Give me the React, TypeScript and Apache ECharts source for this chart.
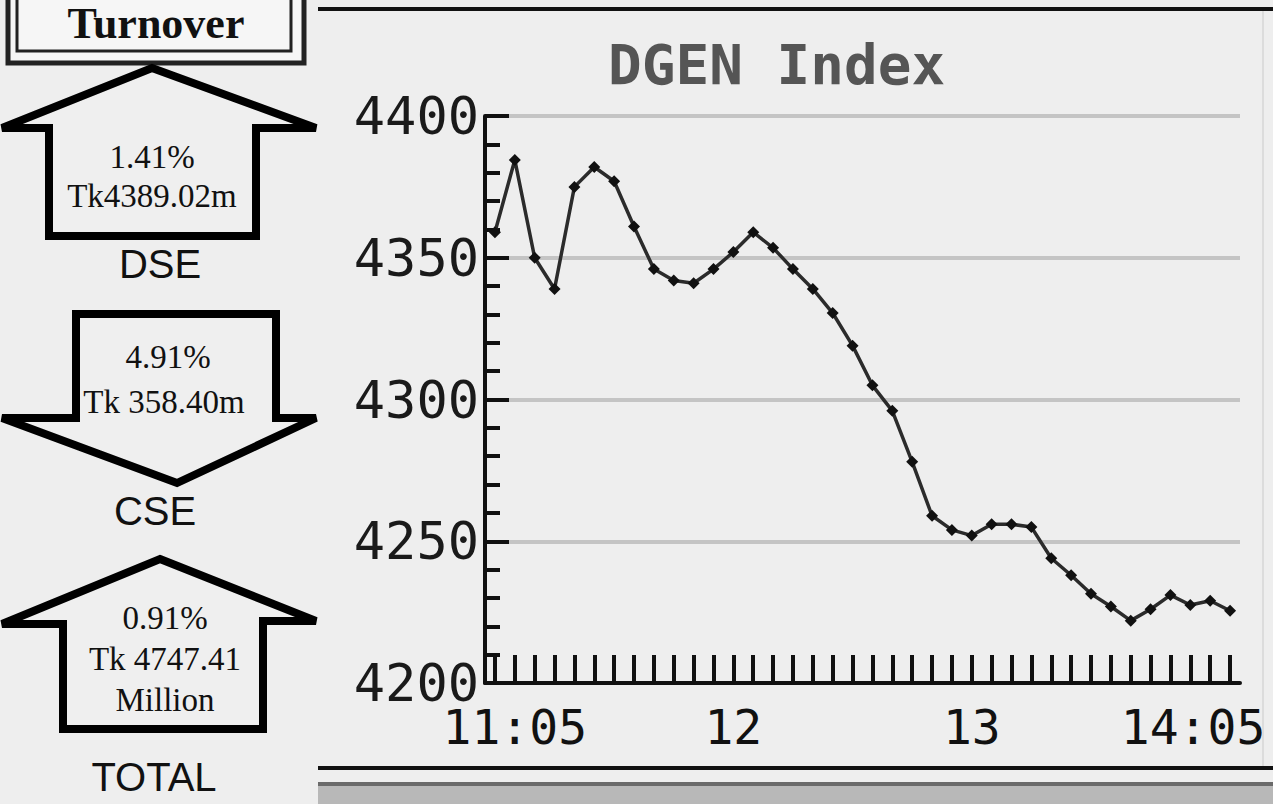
import React, { useEffect, useRef } from "react";
import * as echarts from "echarts";

// ---- data ----
const times = [
  "11:00", "11:05", "11:10", "11:15", "11:20", "11:25", "11:30", "11:35", "11:40", "11:45",
  "11:50", "11:55", "12:00", "12:05", "12:10", "12:15", "12:20", "12:25", "12:30", "12:35",
  "12:40", "12:45", "12:50", "12:55", "13:00", "13:05", "13:10", "13:15", "13:20", "13:25",
  "13:30", "13:35", "13:40", "13:45", "13:50", "13:55", "14:00", "14:05",
];
const dgenValues = [
  4359, 4384.5, 4350, 4339, 4375, 4382, 4377, 4361, 4346, 4342,
  4341, 4346, 4352, 4359, 4353.5, 4346, 4339, 4330.5, 4319, 4305,
  4296, 4278, 4259, 4254, 4252, 4256, 4256, 4255, 4244, 4238,
  4231.5, 4227, 4222, 4226, 4231, 4227.5, 4229, 4225.5,
];
const xTickLabels: Record<string, string> = {
  "11:05": "11:05",
  "12:00": "12",
  "13:00": "13",
  "14:05": "14:05",
};
const yTicks = { min: 4200, max: 4400, step: 50 };

const turnoverTitle = "Turnover";
const dseLines = ["1.41%", "Tk4389.02m"];
const cseLines = ["4.91%", "Tk 358.40m"];
const totalLines = ["0.91%", "Tk 4747.41", "Million"];
const marketNames = ["DSE", "CSE", "TOTAL"];
const chartTitle = "DGEN Index";

const SERIF = "'Liberation Serif', 'Times New Roman', serif";
const SANS = "'Liberation Sans', Arial, sans-serif";
const MONO = "'DejaVu Sans Mono', monospace";

function txt(text: string, x: number, y: number, size: number, family: string, weight = "normal", fill = "#111") {
  return {
    type: "text",
    z: 10,
    style: {
      text,
      x,
      y,
      fill,
      fontSize: size,
      fontFamily: family,
      fontWeight: weight,
      align: "center",
      verticalAlign: "middle",
    },
  };
}

function arrow(points: number[][]) {
  return {
    type: "polygon",
    z: 5,
    shape: { points },
    style: { fill: "#efefef", stroke: "#000", lineWidth: 8, lineJoin: "miter" },
  };
}

export default function App() {
  const ref = useRef<HTMLDivElement>(null);

  useEffect(() => {
    if (!ref.current) return;
    const chart = echarts.init(ref.current, undefined, { renderer: "svg" });

    const graphics: any[] = [
      // Turnover box
      { type: "rect", z: 5, shape: { x: 8, y: -6, width: 296, height: 69 }, style: { fill: "#f6f6f6", stroke: "#222", lineWidth: 5 } },
      { type: "rect", z: 6, shape: { x: 17, y: -6, width: 274, height: 57 }, style: { fill: "none", stroke: "#222", lineWidth: 3 } },
      txt(turnoverTitle, 156, 23, 44, SERIF, "bold"),
      // DSE up arrow
      arrow([[152, 68], [316, 128], [256, 128], [256, 236], [49, 236], [49, 128], [2, 128]]),
      txt(dseLines[0], 152, 157, 33, SERIF),
      txt(dseLines[1], 152, 196, 33, SERIF),
      txt(marketNames[0], 160, 264, 40, SANS),
      // CSE down arrow
      arrow([[76, 314], [276, 314], [276, 418], [316, 418], [177, 483], [2, 418], [76, 418]]),
      txt(cseLines[0], 168, 357, 33, SERIF),
      txt(cseLines[1], 164, 402, 33, SERIF),
      txt(marketNames[1], 155, 511, 40, SANS),
      // TOTAL up arrow
      arrow([[160, 559], [316, 621], [263, 621], [263, 729], [63, 729], [63, 624], [2, 624]]),
      txt(totalLines[0], 165, 618, 33, SERIF),
      txt(totalLines[1], 165, 659, 33, SERIF),
      txt(totalLines[2], 165, 700, 33, SERIF),
      txt(marketNames[2], 154, 777, 40, SANS),
      // chart panel frame
      { type: "rect", z: 5, shape: { x: 318, y: 7, width: 960, height: 4 }, style: { fill: "#111" } },
      { type: "rect", z: 5, shape: { x: 1262, y: 11, width: 2, height: 755 }, style: { fill: "#dcdcdc" } },
      { type: "rect", z: 5, shape: { x: 318, y: 766, width: 960, height: 4 }, style: { fill: "#111" } },
      { type: "rect", z: 5, shape: { x: 318, y: 782, width: 960, height: 4 }, style: { fill: "#6a6a6a" } },
      { type: "rect", z: 5, shape: { x: 318, y: 786, width: 960, height: 20 }, style: { fill: "#b8b8b8" } },
    ];

    const option: any = {
      animation: false,
      backgroundColor: "#eeeeee",
      title: {
        text: chartTitle,
        left: 603,
        top: 31,
        textStyle: { fontFamily: MONO, fontWeight: "bold", fontSize: 56, color: "#555" },
      },
      grid: { left: 485, right: 33, top: 116, bottom: 121, containLabel: false },
      xAxis: {
        type: "category",
        data: times,
        boundaryGap: true,
        axisLine: { show: true, lineStyle: { color: "#111", width: 4 } },
        axisTick: {
          show: true,
          inside: true,
          length: 28,
          alignWithLabel: true,
          interval: 0,
          lineStyle: { color: "#111", width: 4 },
        },
        axisLabel: {
          interval: (_i: number, v: string) => v in xTickLabels,
          formatter: (v: string) => {
            const lab = xTickLabels[v] ?? "";
            return v === times[times.length - 1] ? `{last|${lab}}` : lab;
          },
          margin: 20,
          fontFamily: MONO,
          fontSize: 48,
          color: "#111",
          rich: {
            last: { fontFamily: MONO, fontSize: 48, color: "#111", padding: [0, 74, 0, 0] },
          },
        },
        splitLine: { show: false },
      },
      yAxis: {
        type: "value",
        min: yTicks.min,
        max: yTicks.max,
        interval: yTicks.step,
        axisLine: { show: true, lineStyle: { color: "#111", width: 4 } },
        axisTick: { show: true, inside: true, length: 24, lineStyle: { color: "#111", width: 4 } },
        minorTick: { show: true, splitNumber: 5, length: 15, lineStyle: { color: "#111", width: 4 } },
        axisLabel: {
          margin: 6,
          fontFamily: MONO,
          fontSize: 52,
          color: "#1a1a1a",
          formatter: (v: number) => String(v),
        },
        splitLine: { show: true, lineStyle: { color: "#c4c4c4", width: 4 } },
      },
      series: [
        {
          type: "line",
          data: dgenValues,
          symbol: "diamond",
          symbolSize: 12,
          lineStyle: { color: "#2b2b2b", width: 3.5 },
          itemStyle: { color: "#111" },
          z: 3,
        },
      ],
      graphic: graphics,
    };

    chart.setOption(option);
    return () => chart.dispose();
  }, []);

  return (
    <div
      ref={ref}
      style={{ position: "fixed", left: 0, top: 0, width: 1273, height: 804, background: "#eeeeee" }}
    />
  );
}
